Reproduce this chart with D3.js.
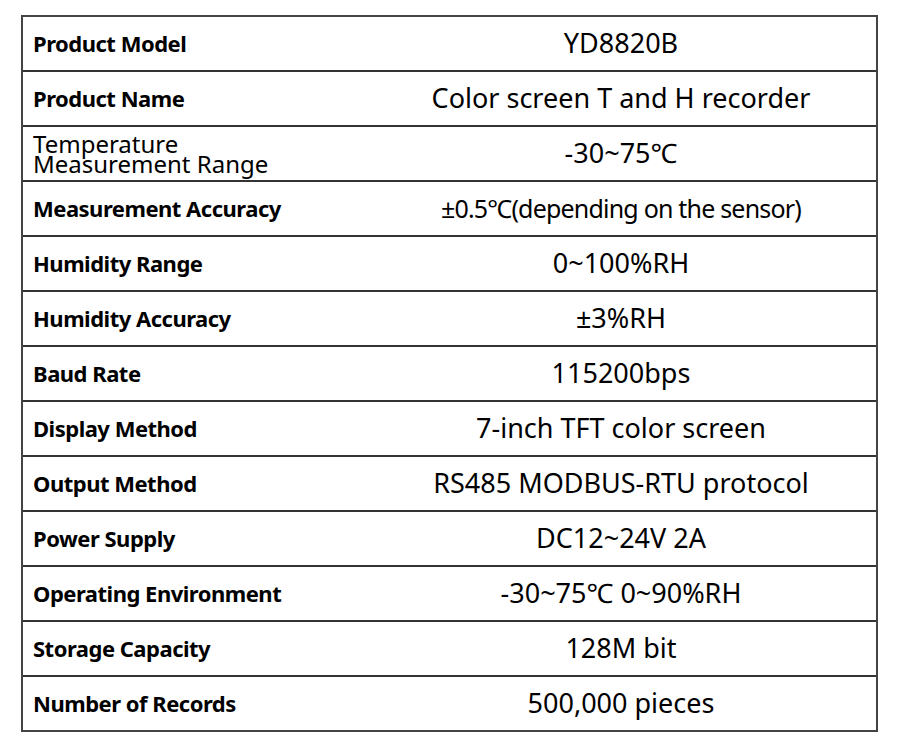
<!DOCTYPE html>
<html><head><meta charset="utf-8">
<script src="https://d3js.org/d3.v7.min.js"></script>
<style>body{margin:0;background:#fff}</style>
</head><body><div id="chart"></div>
<script>
const labels = ["Product Model","Product Name","Temperature\nMeasurement Range","Measurement Accuracy","Humidity Range","Humidity Accuracy","Baud Rate","Display Method","Output Method","Power Supply","Operating Environment","Storage Capacity","Number of Records"];
const values = ["YD8820B","Color screen T and H recorder","-30~75℃","±0.5℃(depending on the sensor)","0~100%RH","±3%RH","115200bps","7-inch TFT color screen","RS485 MODBUS-RTU protocol","DC12~24V 2A","-30~75℃ 0~90%RH","128M bit","500,000 pieces"];

const width = 900, height = 756;
const tLeft = 22, tRight = 877, tTop = 16, tBottom = 731;
const svg = d3.select('#chart').append('svg').attr('width', width).attr('height', height);

const y = d3.scaleBand().domain(d3.range(labels.length)).range([tTop, tBottom]);

// row lines
svg.selectAll('line.row').data(d3.range(1, labels.length)).join('line')
  .attr('x1', tLeft).attr('x2', tRight)
  .attr('y1', d => y(d)).attr('y2', d => y(d))
  .attr('stroke', '#333').attr('stroke-width', 2);
svg.append('rect').attr('x', tLeft).attr('y', tTop).attr('width', tRight - tLeft).attr('height', tBottom - tTop)
  .attr('fill', 'none').attr('stroke', '#444').attr('stroke-width', 2);

labels.forEach((t, i) => {
  const parts = t.split('\n');
  const cy = y(i) + y.bandwidth() / 2;
  const txt = svg.append('text').attr('x', 33).attr('font-family', 'Noto Sans').attr('font-weight', 'bold')
    .attr('font-size', 22).attr('fill', '#000').attr('letter-spacing', -0.5);
  if (parts.length === 1) {
    txt.attr('y', cy + 8).text(t);
  } else {
    txt.attr('font-weight', 'normal').attr('font-size', 24).attr('letter-spacing', 0);
    txt.append('tspan').attr('x', 33).attr('y', cy - 1).text(parts[0]);
    txt.append('tspan').attr('x', 33).attr('y', cy + 19).text(parts[1]);
  }
  svg.append('text').attr('x', 621).attr('y', cy + 9).attr('text-anchor', 'middle')
    .attr('font-family', 'Noto Sans').attr('font-size', i === 3 ? 25 : 27).attr('fill', '#000')
    .attr('letter-spacing', i === 3 ? -0.8 : 0)
    .text(values[i]);
});
</script></body></html>
